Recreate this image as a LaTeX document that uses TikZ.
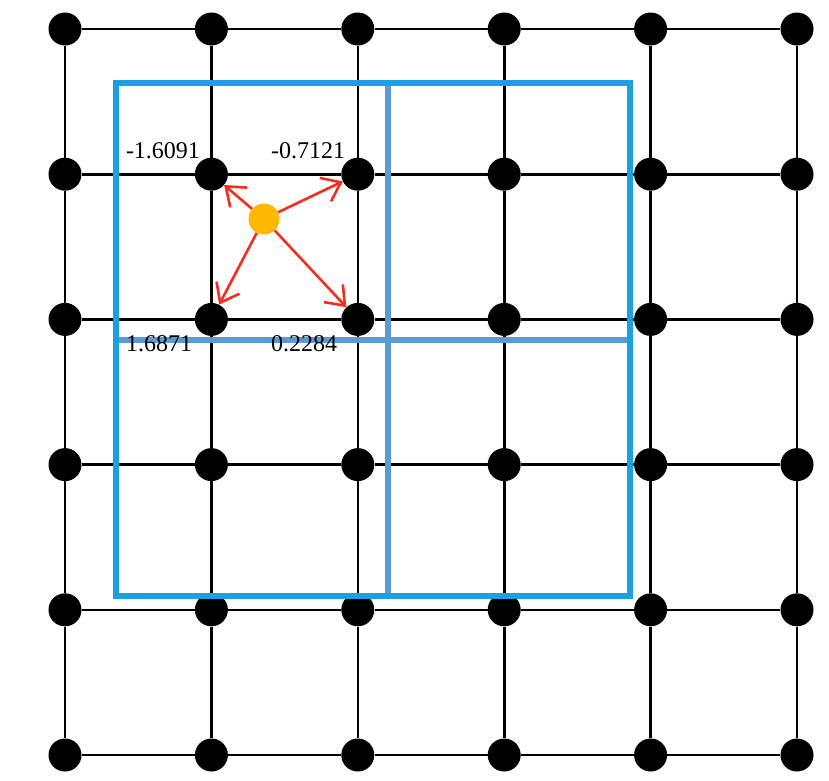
\documentclass[tikz,border=0pt]{standalone}
\usepackage{fontspec}
\setmainfont{Liberation Serif}
\usetikzlibrary{arrows.meta}
\definecolor{outerblue}{RGB}{27,161,226}
\definecolor{innerblue}{RGB}{91,155,213}
\definecolor{vecred}{RGB}{245,45,30}
\definecolor{pointorange}{RGB}{255,184,0}

\begin{document}
\begin{tikzpicture}[x=1pt, y=-1pt,
		gridpt/.style = {circle, fill = black, minimum size = 33pt, inner sep = 0pt},
		gridline/.style = {line width = 2.6pt},
		value/.style = {draw = none, inner sep = 0pt, font = \fontsize{24}{26}\selectfont},
		vec/.style = {draw = vecred, line width = 2.6pt, -{Straight Barb[length = 17pt, width = 26pt, line width = 2.6pt]}}]
		\useasboundingbox (0,0) rectangle (829,780);
		% Grid points
		\foreach \i in {0,...,5}
			\foreach \j in {0,...,5}
				\node [gridpt] (d-\i-\j) at ({65+146.4*\i},{29+145.2*\j}) {};
		% Grid lines
		\foreach \i in {0,...,5}
			\foreach \j [count = \k from 1] in {0,...,4} {
				\draw [gridline] (d-\i-\j) -- (d-\i-\k);
				\draw [gridline] (d-\j-\i) -- (d-\k-\i);
			}
		% Inner split of the window
		\draw [innerblue, line width = 5.5pt] (388,83) -- (388,596);
		\draw [innerblue, line width = 5.5pt] (116,340) -- (630,340);
		% Window
		\draw [outerblue, line width = 6.5pt] (116,83) rectangle (630,596);
		% Sample point
		\node [circle, fill = pointorange, minimum size = 31pt, inner sep = 0pt] (p) at (264,219) {};
		% Vectors to the four neighbours
		\foreach \c in {d-1-1, d-2-1, d-1-2, d-2-2}
			\draw [vec] (p) -- (\c);
		% Values at the neighbours
		\node [value] (v-1-1) at (163,151) {-1.6091};
		\node [value] (v-2-1) at (308,151) {-0.7121};
		\node [value] (v-1-2) at (159,344) {1.6871};
		\node [value] (v-2-2) at (304,344) {0.2284};
\end{tikzpicture}
\end{document}
